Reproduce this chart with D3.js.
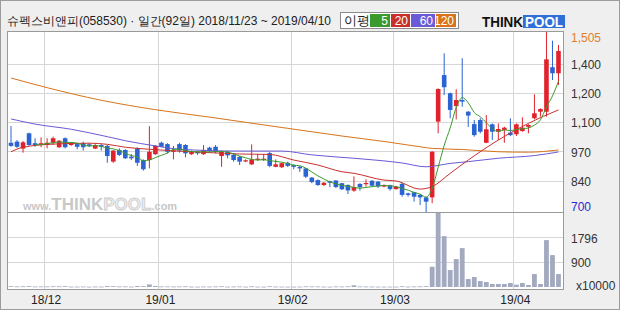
<!DOCTYPE html>
<html>
<head>
<meta charset="utf-8">
<script src="https://cdn.jsdelivr.net/npm/d3@7"></script>
<style>
  body { margin: 0; background: #fff; }
  svg { display: block; }
  text { font-family: "Liberation Sans", Arial, sans-serif; }
</style>
</head>
<body>
<svg id="chart" width="620" height="310"></svg>
<script>
// daily candles, 2018/11/23 ~ 2019/04/10 (92 trading days)
var opens  = [1008,1013,982,1050,1006,999,998,1008,988,1028, 998,1002,1006,1001,982,998,994,924,976,976,
              946,983,931,931,957,1008,1002,968,1002,998, 957,968,957,986,990,949,968,954,945,925,
              912,933,933,962,901,899,919,909,901,894, 853,842,820,837,840,828,820,795,825,825,
              839,835,813,819,802,825,783,788,776,765, 765,1102,1309,1228,1171,1198,1146,1091,1109,1008,
              1090,1057,1065,1053,1046,1060,1079,1117,1146,1146, 1344,1317];
var highs  = [1082,1020,1016,1053,1028,1032,1028,1035,1020,1032, 1011,1008,1013,1006,1002,1002,998,976,983,979,
              958,988,934,1082,998,1013,1006,994,1008,1002, 973,971,998,990,998,973,971,961,949,934,
              1001,958,958,968,934,919,924,912,905,896, 856,845,833,839,842,830,823,858,828,845,
              842,838,823,821,816,830,786,790,780,768, 971,1250,1406,1231,1246,1384,1149,1109,1117,1131,
              1094,1094,1079,1117,1094,1121,1090,1223,1161,1505, 1462,1443];
var lows   = [990,985,964,994,990,988,983,998,985,983, 994,979,973,989,980,973,919,919,949,936,
              931,905,884,894,954,988,961,934,964,943, 954,954,954,964,961,901,939,924,909,922,
              909,928,927,899,899,896,900,890,878,851, 828,816,816,810,807,798,780,790,795,813,
              813,807,810,795,799,768,768,746,731,700, 739,1050,1220,1117,1112,1168,1078,1035,1050,1006,
              1020,1020,1008,1038,1038,1057,1050,1112,1124,1124, 1287,1265];
var closes = [994,990,1010,998,998,1006,1008,1028,1017,988, 1006,990,988,994,998,990,949,973,954,939,
              939,919,890,968,994,990,968,973,973,961, 968,961,976,971,968,968,952,931,924,930,
              934,937,937,905,912,917,905,901,894,857, 833,820,830,830,811,801,796,811,810,829,
              817,813,820,802,813,776,776,768,765,746, 968,1247,1255,1154,1198,1191,1129,1042,1057,1068,
              1057,1069,1075,1042,1090,1075,1087,1139,1158,1379, 1317,1416];
// volume, x10000 shares
var volumes = [28,22,25,30,18,20,22,26,24,30, 15,14,18,12,16,14,32,28,20,22,
               14,34,30,92,36,20,22,18,20,24, 14,12,18,16,20,26,14,18,20,12,
               24,14,12,26,16,14,12,12,14,24, 22,20,14,12,20,18,24,62,20,18,
               16,14,12,14,12,26,14,20,22,30, 732,2694,1839,613,1010,1406,288,361,216,180,
               108,108,108,144,84,144,72,469,108,1695, 1154,469];

// moving averages as [day index, price]
var ma20 = [[0,968],[2,988],[7,1002],[13,1006],[16,1001],[19,988],[23,979],[33,964],[38,958],[43,956],
            [47,931],[51,909],[55,879],[57,872],[62,842],[64,838],[68,802],[70,813],[73,872],[76,931],
            [81,1020],[86,1094],[91,1154]];
var ma60 = [[0,1114],[4,1091],[10,1068],[16,1035],[19,1017],[24,994],[28,979],[38,971],[45,971],[50,954],
            [57,939],[65,918],[69,901],[73,916],[76,924],[81,939],[87,951],[91,967]];
var ma120 = [[0,1296],[6,1253],[15,1197],[24,1155],[33,1122],[46,1072],[55,1038],[63,1010],[68,990],
             [70,983],[75,978],[81,968],[86,966],[91,976]];

var monthStarts = [6, 25, 47, 64, 84];
var monthLabels = ["18/12", "19/01", "19/02", "19/03", "19/04"];
var priceTicks = [840, 970, 1100, 1230, 1360];
var priceTickLabels = ["840", "970", "1,100", "1,200", "1,400"];
var priceMin = 700, priceMax = 1505;
var volTicks = [900, 1796];
var volMax = 2694;

var maNames = ["5", "20", "60", "120"];
var maColors = ["#3c9a2c", "#c8302c", "#6a5ad6", "#d8731a"];

var title = "슈펙스비앤피(058530) · 일간(92일) 2018/11/23 ~ 2019/04/10";

var svg = d3.select("#chart");
var W = 620, H = 310;
var left = 7, right = 563, priceTop = 31, priceBottom = 212, volBottom = 289;

svg.append("rect").attr("x", 0.5).attr("y", 0.5).attr("width", W - 1).attr("height", H - 1)
    .attr("fill", "#efefef").attr("stroke", "#9c9c9c");

var xScale = d3.scaleBand().domain(d3.range(closes.length)).range([8, 561.5]);
var step = xScale.step();
var cx = function(i) { return xScale(i) + step / 2; };

var yScale = d3.scaleLinear().domain([priceMin, priceMax]).range([priceBottom, priceTop]);
var vScale = d3.scaleLinear().domain([0, volMax]).range([287, 212.5]);

// panels
svg.append("rect").attr("x", left).attr("y", priceTop).attr("width", right - left).attr("height", volBottom - priceTop)
    .attr("fill", "#fff");

var grid = svg.append("g").attr("stroke", "#d6d6d6").attr("stroke-width", 1).attr("shape-rendering", "crispEdges");
grid.selectAll(".hg").data(priceTicks).join("line")
    .attr("x1", left).attr("x2", right)
    .attr("y1", d => Math.round(yScale(d)) + 0.5).attr("y2", d => Math.round(yScale(d)) + 0.5);
grid.selectAll(".vg").data(volTicks).join("line")
    .attr("x1", left).attr("x2", right)
    .attr("y1", d => Math.round(vScale(d)) + 0.5).attr("y2", d => Math.round(vScale(d)) + 0.5);
grid.selectAll(".mg").data(monthStarts).join("line")
    .attr("x1", d => Math.round(xScale(d)) + 0.5).attr("x2", d => Math.round(xScale(d)) + 0.5)
    .attr("y1", priceTop).attr("y2", volBottom);

// watermark
var wm = svg.append("text").attr("x", 23).attr("y", 210).attr("fill", "#c8c8c8");
wm.append("tspan").attr("font-size", 11).attr("font-weight", "bold").text("www.");
wm.append("tspan").attr("font-size", 17).attr("font-weight", "900").text("THINK");
wm.append("tspan").attr("font-size", 17).attr("font-weight", "900").attr("fill", "#ececec")
    .attr("stroke", "#cccccc").attr("stroke-width", 0.8).text("POOL");
wm.append("tspan").attr("font-size", 11).attr("font-weight", "bold").text(".com");

// volume bars
svg.append("g").selectAll("rect").data(volumes).join("rect")
    .attr("x", (d, i) => cx(i) - 2.4)
    .attr("width", 4.8)
    .attr("y", d => vScale(d))
    .attr("height", d => Math.max(0.8, vScale(0) - vScale(d)))
    .attr("fill", "#a3aabf");

// candles
var candles = svg.append("g").selectAll("g").data(closes).join("g")
    .attr("fill", (d, i) => d >= opens[i] ? "#e0222c" : "#2a64d2")
    .attr("stroke", (d, i) => d >= opens[i] ? "#e0222c" : "#2a64d2");
candles.append("line")
    .attr("x1", (d, i) => cx(i)).attr("x2", (d, i) => cx(i))
    .attr("y1", (d, i) => yScale(highs[i])).attr("y2", (d, i) => yScale(lows[i]))
    .attr("stroke-width", 1);
candles.append("rect")
    .attr("stroke", "none")
    .attr("x", (d, i) => cx(i) - 2.3)
    .attr("width", 4.6)
    .attr("y", (d, i) => yScale(Math.max(d, opens[i])))
    .attr("height", (d, i) => Math.max(1.2, Math.abs(yScale(d) - yScale(opens[i]))));

// moving averages
var ma5 = closes.map((c, i) => i < 4 ? null : [i, d3.mean(closes.slice(i - 4, i + 1))]).filter(d => d);
var line = d3.line().x(d => cx(d[0])).y(d => yScale(d[1])).curve(d3.curveMonotoneX);
var maSeries = [ma5, ma20, ma60, ma120];
svg.append("g").attr("fill", "none").attr("stroke-width", 1)
  .selectAll("path").data(maSeries.slice().reverse()).join("path")
    .attr("stroke", (d, i) => maColors[3 - i])
    .attr("d", line);

// panel borders
var borders = svg.append("g").attr("fill", "none").attr("stroke", "#9a9a9a").attr("shape-rendering", "crispEdges");
borders.append("rect").attr("x", left + 0.5).attr("y", priceTop + 0.5)
    .attr("width", right - left).attr("height", volBottom - priceTop);
borders.append("line").attr("x1", left).attr("x2", right + 1).attr("y1", priceBottom + 0.5).attr("y2", priceBottom + 0.5);

// price axis
var yAxis = d3.axisRight(yScale).tickValues(priceTicks)
    .tickFormat((d, i) => priceTickLabels[i]).tickSize(0).tickPadding(8);
svg.append("g").attr("transform", "translate(" + right + ",1)").call(yAxis)
    .call(g => g.select(".domain").remove())
    .call(g => g.selectAll("text").attr("font-size", 12).attr("fill", "#333")
        .attr("font-family", "Liberation Sans, Arial, sans-serif"));
svg.append("text").attr("x", 571).attr("y", yScale(priceMax) + 11).attr("font-size", 12)
    .attr("fill", "#e0802a").text(d3.format(",")(priceMax));
svg.append("text").attr("x", 571).attr("y", yScale(priceMin) - 1).attr("font-size", 12)
    .attr("fill", "#2a2ad2").text(priceMin);

// volume axis
var vAxis = d3.axisRight(vScale).tickValues(volTicks).tickFormat(d3.format("d")).tickSize(0).tickPadding(8);
svg.append("g").attr("transform", "translate(" + right + ",1)").call(vAxis)
    .call(g => g.select(".domain").remove())
    .call(g => g.selectAll("text").attr("font-size", 12).attr("fill", "#333")
        .attr("font-family", "Liberation Sans, Arial, sans-serif"));
svg.append("text").attr("x", 576).attr("y", 290).attr("font-size", 12).attr("fill", "#333").text("x10000");

// month labels
svg.append("g").selectAll("text").data(monthStarts).join("text")
    .attr("x", d => xScale(d) + 2)
    .attr("y", 304)
    .attr("text-anchor", "middle")
    .attr("font-size", 12)
    .attr("fill", "#222")
    .text((d, i) => monthLabels[i]);

// header
svg.append("text").attr("x", 7).attr("y", 25)
    .attr("font-family", "Noto Sans CJK KR, sans-serif").attr("font-size", 12).attr("fill", "#222")
    .attr("textLength", 324).attr("lengthAdjust", "spacingAndGlyphs")
    .text(title);

var legend = svg.append("g");
legend.append("rect").attr("x", 340.5).attr("y", 12.5).attr("width", 118).attr("height", 16)
    .attr("fill", "#fff").attr("stroke", "#8a8a8a");
legend.append("text").attr("x", 344).attr("y", 25).attr("font-size", 13)
    .attr("font-family", "Noto Sans CJK KR, sans-serif").attr("fill", "#222").text("이평");
var boxX = [370, 391, 411, 436], boxW = [20, 19, 24, 20];
var items = legend.selectAll(".item").data(maNames).join("g");
items.append("rect").attr("x", (d, i) => boxX[i]).attr("y", 14).attr("width", (d, i) => boxW[i]).attr("height", 13)
    .attr("fill", (d, i) => maColors[i]);
items.append("text").attr("x", (d, i) => boxX[i] + boxW[i] - 2).attr("y", 25)
    .attr("text-anchor", "end").attr("font-size", 12).attr("fill", "#fff").text(d => d);

var logo = svg.append("g");
logo.append("text").attr("x", 482).attr("y", 27).attr("font-size", 14).attr("font-weight", "900")
    .attr("font-family", "DejaVu Sans, sans-serif").attr("fill", "#111")
    .attr("textLength", 41).attr("lengthAdjust", "spacingAndGlyphs").text("THINK");
logo.append("rect").attr("x", 523).attr("y", 15).attr("width", 42).attr("height", 13).attr("fill", "#2f6fd8");
logo.append("text").attr("x", 525).attr("y", 27).attr("font-size", 14).attr("font-weight", "900")
    .attr("font-family", "DejaVu Sans, sans-serif").attr("fill", "#fff")
    .attr("textLength", 38).attr("lengthAdjust", "spacingAndGlyphs").text("POOL");
</script>
</body>
</html>
